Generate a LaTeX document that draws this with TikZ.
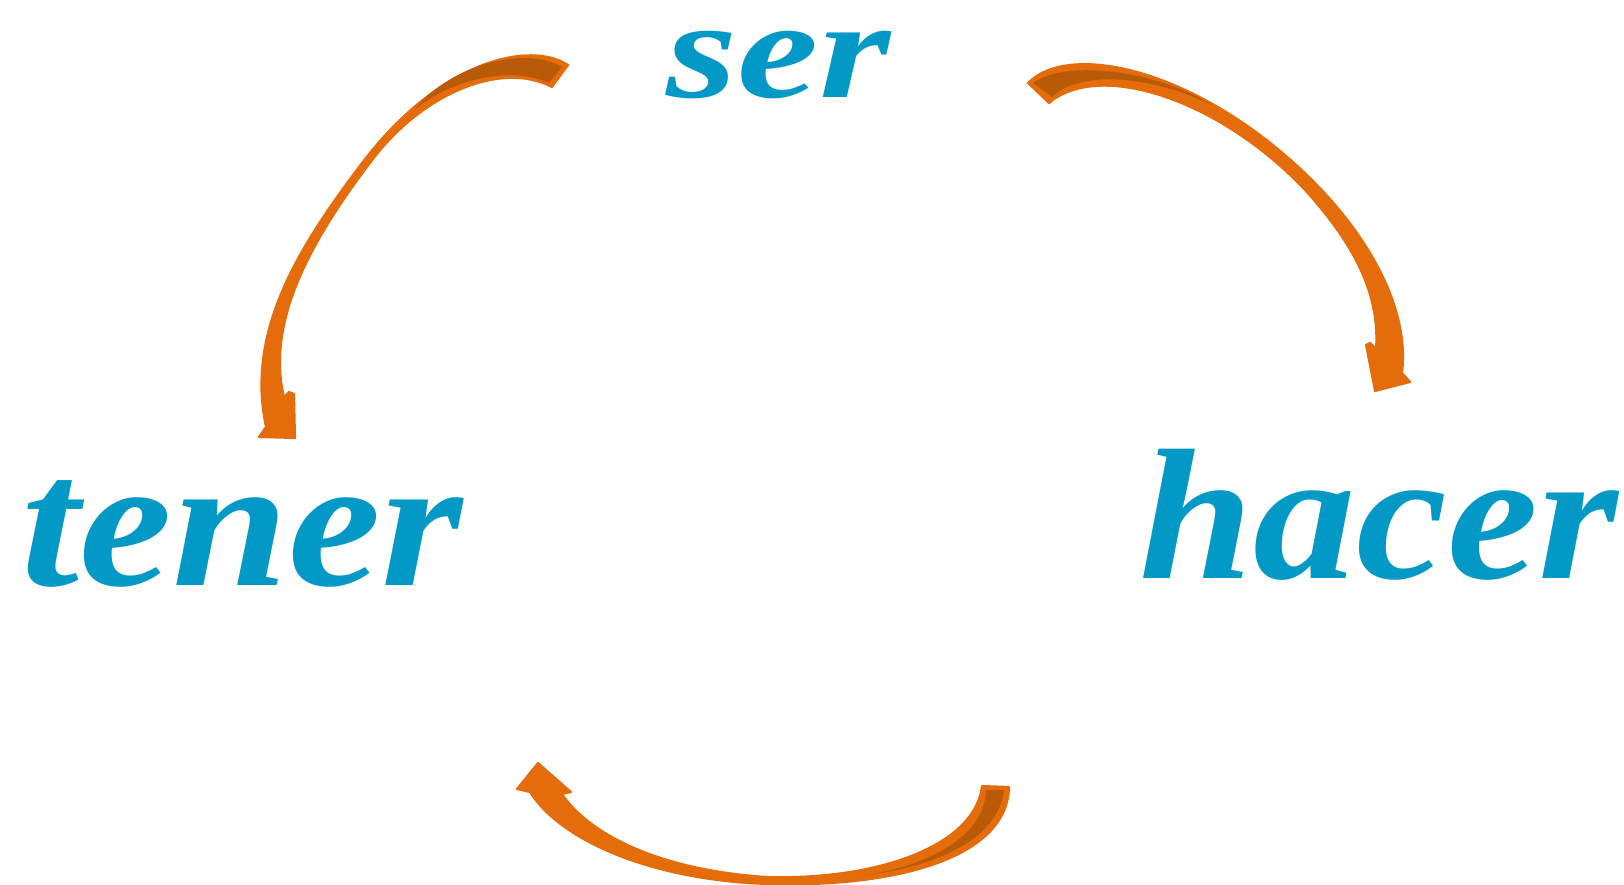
\documentclass[tikz,border=0pt]{standalone}
\usepackage{fontspec}
\setmainfont{Liberation Serif}
\definecolor{verbblue}{HTML}{0399C6}
\definecolor{arroworange}{HTML}{E46C0A}
\definecolor{arrowdark}{HTML}{B85A07}
\begin{document}
\begin{tikzpicture}[x=0.01cm, y=-0.01cm,
  verb/.style={text=verbblue, inner sep=0pt, anchor=base west, font=\fontsize{53}{53}\selectfont\bfseries\itshape},
  ribbon/.style={fill=arroworange, draw=arroworange, line width=0.6pt, line join=round},
  ribbonback/.style={fill=arrowdark}]
  \useasboundingbox (0,0) rectangle (1624,885);
  \node[verb] (tener) at (21,585) {\scalebox{1.12}[1]{tener}};
  \node[verb] (hacer) at (1139,578) {\scalebox{1.1}[1]{hacer}};
  \node[verb, font=\fontsize{40}{40}\selectfont\bfseries\itshape] (ser) at (666,98) {\scalebox{1.3}[1]{ser}};
  \path[ribbon] (552,87) -- (568,65) .. controls (530,40) and (440,60) .. (362,163)
    .. controls (300,245) and (245,330) .. (266,427)
    -- (259,437) -- (295,438) -- (294,394) -- (289,392) -- (284,397)
    .. controls (268,330) and (300,255) .. (370,163)
    .. controls (420,95) and (500,60) .. (552,87) -- cycle;
  \fill[ribbonback] (562,67) .. controls (525,45) and (450,65) .. (414,110)
    .. controls (450,80) and (510,65) .. (549,83) -- cycle;
  \path[ribbon] (1049,103) -- (1028,83) .. controls (1070,40) and (1200,70) .. (1310,178)
    .. controls (1370,237) and (1410,310) .. (1402,373)
    -- (1410,382) -- (1375,391) -- (1366,345) -- (1370,343) -- (1376,349)
    .. controls (1380,290) and (1350,240) .. (1305,190)
    .. controls (1220,100) and (1100,60) .. (1049,103) -- cycle;
  \fill[ribbonback] (1033,83) .. controls (1068,58) and (1160,72) .. (1212,105)
    .. controls (1150,75) and (1080,70) .. (1052,97) -- cycle;
  \path[ribbon] (982,786) -- (1009,787) .. controls (1008,860) and (890,888) .. (767,884)
    .. controls (650,880) and (560,840) .. (530,792)
    -- (517,789) -- (538,763) -- (571,792) -- (562,794)
    .. controls (590,835) and (660,870) .. (767,877)
    .. controls (880,880) and (975,845) .. (982,786) -- cycle;
  \fill[ribbonback] (986,790) .. controls (985,840) and (920,868) .. (860,876)
    .. controls (930,868) and (998,842) .. (1004,790) -- cycle;
\end{tikzpicture}
\end{document}
